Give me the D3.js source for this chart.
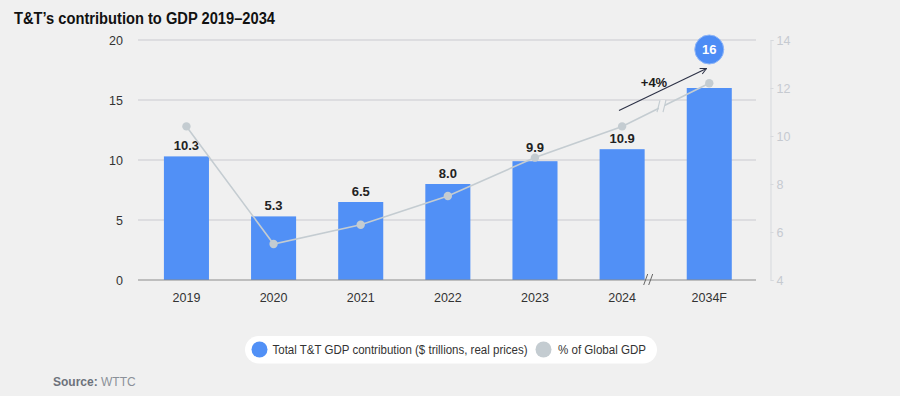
<!DOCTYPE html>
<html>
<head>
<meta charset="utf-8">
<script src="https://cdn.jsdelivr.net/npm/d3@7"></script>
<style>
  body { margin: 0; background: #f0f0f0; }
  svg { display: block; font-family: "Liberation Sans", Arial, sans-serif; }
</style>
</head>
<body>
<svg id="chart"></svg>
<script>
// chart data
var years = ["2019", "2020", "2021", "2022", "2023", "2024", "2034F"];
var gdpValues = [10.3, 5.3, 6.5, 8.0, 9.9, 10.9, 16];
var barLabels = ["10.3", "5.3", "6.5", "8.0", "9.9", "10.9", "16"];
var shareValues = [10.4, 5.5, 6.3, 7.5, 9.1, 10.4, 12.2];
var leftTicks = [0, 5, 10, 15, 20];
var rightTicks = [4, 6, 8, 10, 12, 14];

var width = 900, height = 396;
var blue = "#5190f6", grey = "#c4ccd1";

var svg = d3.select("#chart").attr("width", width).attr("height", height);

svg.append("rect").attr("width", width).attr("height", height).attr("fill", "#f0f0f0");

var x = d3.scaleBand().domain(years).range([143, 752.7]).paddingInner(0.483).paddingOuter(0.24);
var y = d3.scaleLinear().domain([0, 20]).range([280, 40]);
var y2 = d3.scaleLinear().domain([4, 14]).range([280, 40]);

// title
svg.append("text")
  .attr("x", 14).attr("y", 24)
  .attr("font-size", 16).attr("font-weight", "bold").attr("fill", "#111")
  .attr("textLength", 261).attr("lengthAdjust", "spacingAndGlyphs")
  .text("T&T\u2019s contribution to GDP 2019\u20132034");

// gridlines
svg.append("g").selectAll("line")
  .data(leftTicks.filter(function(d) { return d > 0; }))
  .enter().append("line")
  .attr("x1", 138).attr("x2", 756)
  .attr("y1", function(d) { return y(d); })
  .attr("y2", function(d) { return y(d); })
  .attr("stroke", "#c9cacf").attr("stroke-width", 1.2);

// left axis labels
var yAxis = svg.append("g")
  .attr("transform", "translate(131,0)")
  .call(d3.axisLeft(y).tickValues(leftTicks).tickSize(0).tickPadding(8));
yAxis.select(".domain").remove();
yAxis.selectAll("text").attr("font-size", 12.5).attr("fill", "#333")
  .attr("font-family", "Liberation Sans, Arial, sans-serif");

// right axis
var y2Axis = svg.append("g")
  .attr("transform", "translate(770.5,0)")
  .call(d3.axisRight(y2).tickValues(rightTicks).tickSize(3).tickPadding(3));
y2Axis.select(".domain").attr("stroke", "#d6d9dd");
y2Axis.selectAll(".tick line").attr("stroke", "#d6d9dd");
y2Axis.selectAll("text").attr("font-size", 12.5).attr("fill", "#c6cad0")
  .attr("font-family", "Liberation Sans, Arial, sans-serif");

// bars
svg.append("g").selectAll("rect")
  .data(gdpValues)
  .enter().append("rect")
  .attr("x", function(d, i) { return x(years[i]); })
  .attr("y", function(d) { return y(d); })
  .attr("width", x.bandwidth())
  .attr("height", function(d) { return y(0) - y(d); })
  .attr("fill", blue);

// x baseline
svg.append("line")
  .attr("x1", 138).attr("x2", 756).attr("y1", y(0)).attr("y2", y(0))
  .attr("stroke", "#8c8c8c").attr("stroke-width", 1.2);

// break mark on axis
var brk = (x("2024") + x.bandwidth() + x("2034F")) / 2 - 19;
[0, 5].forEach(function(o) {
  svg.append("line")
    .attr("x1", brk - 3 + o).attr("y1", y(0) + 5)
    .attr("x2", brk + 1 + o).attr("y2", y(0) - 6)
    .attr("stroke", "#666").attr("stroke-width", 1);
});

// value labels (the 2023 one sits a bit higher, clear of the line)
svg.append("g").selectAll("text")
  .data(gdpValues.slice(0, 6))
  .enter().append("text")
  .attr("x", function(d, i) { return x(years[i]) + x.bandwidth() / 2; })
  .attr("y", function(d, i) { return y(d) - (i === 4 ? 9.5 : 6); })
  .attr("text-anchor", "middle")
  .attr("font-size", 13).attr("font-weight", "bold").attr("fill", "#222")
  .text(function(d, i) { return barLabels[i]; });

// x labels
svg.append("g").selectAll("text")
  .data(years)
  .enter().append("text")
  .attr("x", function(d) { return x(d) + x.bandwidth() / 2; })
  .attr("y", 302)
  .attr("text-anchor", "middle")
  .attr("font-size", 12.5).attr("fill", "#333")
  .text(function(d) { return d; });

// share line
var line = d3.line()
  .x(function(d, i) { return x(years[i]) + x.bandwidth() / 2; })
  .y(function(d) { return y2(d); });
svg.append("path")
  .datum(shareValues)
  .attr("d", line)
  .attr("fill", "none").attr("stroke", grey).attr("stroke-width", 1.6);

svg.append("g").selectAll("circle")
  .data(shareValues)
  .enter().append("circle")
  .attr("cx", function(d, i) { return x(years[i]) + x.bandwidth() / 2; })
  .attr("cy", function(d) { return y2(d); })
  .attr("r", 4.2)
  .attr("fill", grey);

// break mark on line
var bx = 663, by = y2(shareValues[5]) + (y2(shareValues[6]) - y2(shareValues[5])) * ((bx - (x("2024") + x.bandwidth() / 2)) / x.step());
svg.append("rect")
  .attr("x", bx - 4).attr("y", by - 6).attr("width", 6).attr("height", 12)
  .attr("fill", "#f0f0f0");
[-4, 2].forEach(function(o) {
  svg.append("line")
    .attr("x1", bx + o - 2).attr("y1", by + 6)
    .attr("x2", bx + o + 1).attr("y2", by - 6)
    .attr("stroke", grey).attr("stroke-width", 1.2);
});

// growth arrow
var defs = svg.append("defs");
defs.append("marker")
  .attr("id", "arrow").attr("viewBox", "0 0 10 10")
  .attr("refX", 9).attr("refY", 5)
  .attr("markerWidth", 7).attr("markerHeight", 7)
  .attr("orient", "auto")
  .append("path").attr("d", "M1,1 L9,5 L1,9")
  .attr("fill", "none").attr("stroke", "#2b3045").attr("stroke-width", 1.3);

svg.append("line")
  .attr("x1", 619).attr("y1", 110.5)
  .attr("x2", 706.5).attr("y2", 68.5)
  .attr("stroke", "#2b3045").attr("stroke-width", 1.1)
  .attr("marker-end", "url(#arrow)");

svg.append("text")
  .attr("x", 654).attr("y", 87)
  .attr("text-anchor", "middle")
  .attr("font-size", 13).attr("font-weight", "bold").attr("fill", "#1c1c1c")
  .text("+4%");

// 2034F value bubble
var cx34 = x("2034F") + x.bandwidth() / 2;
svg.append("circle")
  .attr("cx", cx34).attr("cy", 49.5).attr("r", 14.5)
  .attr("fill", "#4c8cf5").attr("stroke", "#8fb6f8").attr("stroke-width", 1);
svg.append("text")
  .attr("x", cx34).attr("y", 54)
  .attr("text-anchor", "middle")
  .attr("font-size", 13).attr("font-weight", "bold").attr("fill", "#fff")
  .text(barLabels[6]);

// legend
var legend = svg.append("g");
legend.append("rect")
  .attr("x", 245).attr("y", 336).attr("width", 412).attr("height", 27.5)
  .attr("rx", 13.75).attr("fill", "#fff");
legend.append("circle").attr("cx", 259.5).attr("cy", 349.5).attr("r", 8).attr("fill", blue);
legend.append("text").attr("x", 272.5).attr("y", 354)
  .attr("font-size", 12.5).attr("fill", "#333")
  .attr("textLength", 255).attr("lengthAdjust", "spacingAndGlyphs")
  .text("Total T&T GDP contribution ($ trillions, real prices)");
legend.append("circle").attr("cx", 543.5).attr("cy", 349.5).attr("r", 8).attr("fill", grey);
legend.append("text").attr("x", 558).attr("y", 354)
  .attr("font-size", 12.5).attr("fill", "#333")
  .attr("textLength", 88).attr("lengthAdjust", "spacingAndGlyphs")
  .text("% of Global GDP");

// source
var src = svg.append("text").attr("x", 53).attr("y", 386).attr("font-size", 12);
src.append("tspan").attr("font-weight", "bold").attr("fill", "#6d727b").text("Source: ");
src.append("tspan").attr("fill", "#8b9099").text("WTTC");
</script>
</body>
</html>
